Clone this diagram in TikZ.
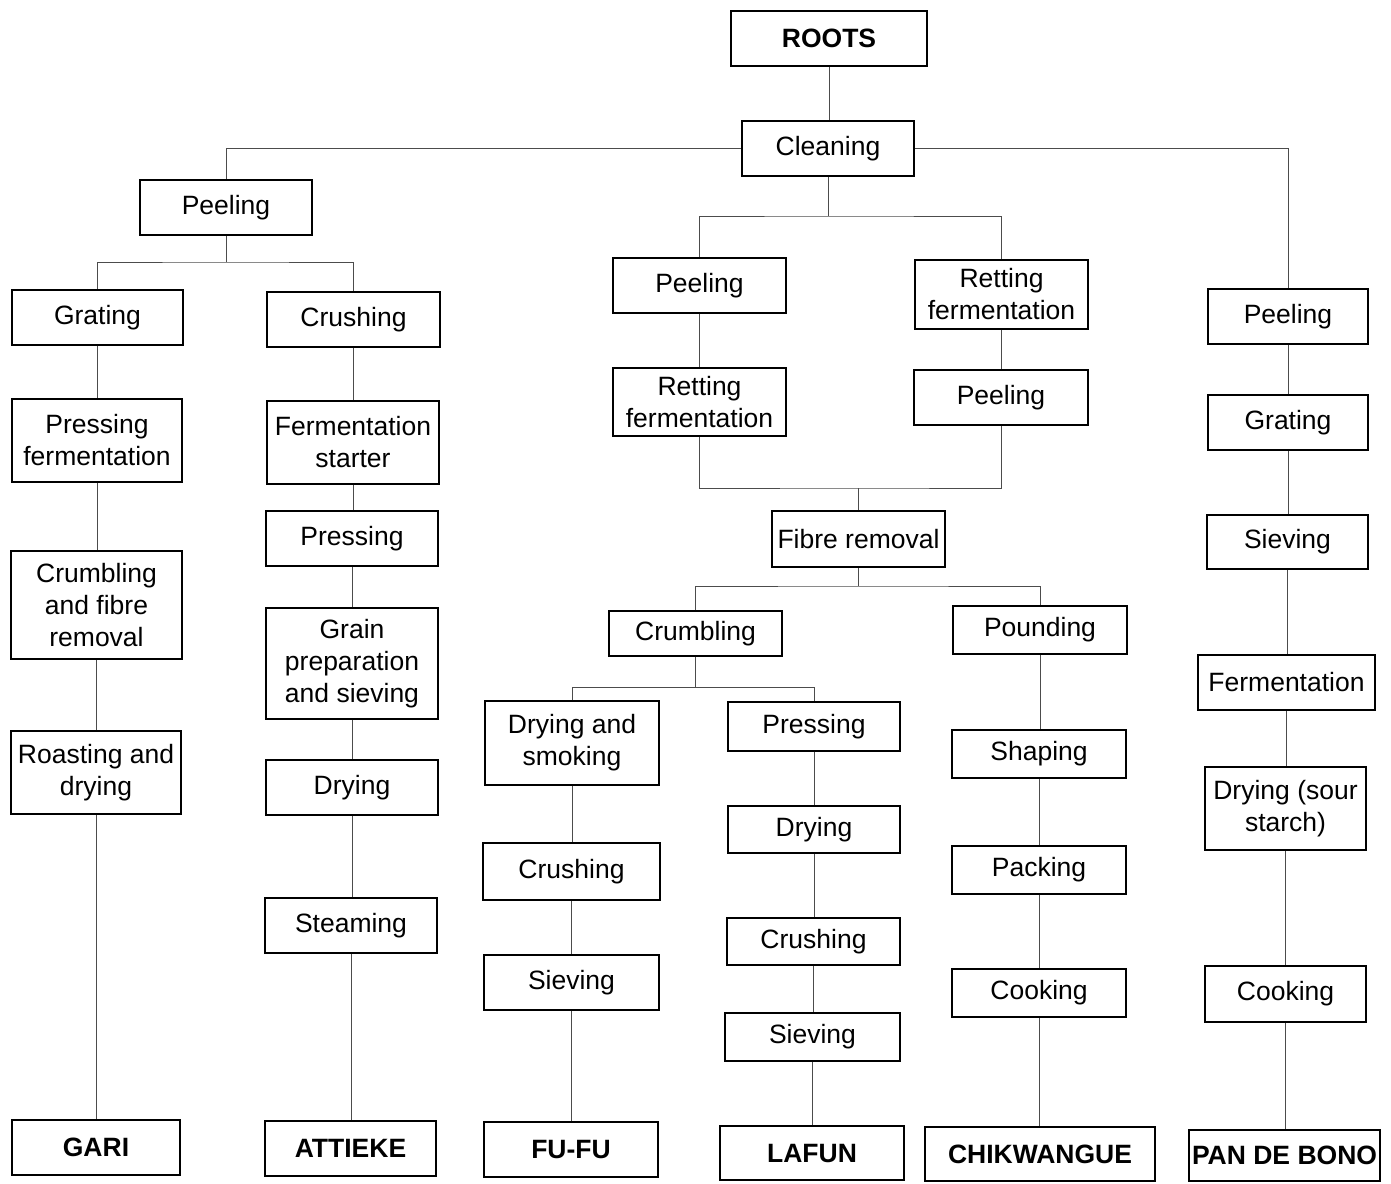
\documentclass[tikz,border=0pt]{standalone}
\usepackage{fontspec}
\setmainfont{Liberation Sans}
\begin{document}
\begin{tikzpicture}[x=1pt,y=-1pt,
  box/.style={draw=black, line width=1.7pt, fill=white, inner sep=0pt,
    align=center, font=\fontsize{26.5}{32}\selectfont},
  endbox/.style={box, font=\fontsize{26.5}{32}\selectfont\bfseries},
  link/.style={draw=black!70, line width=1pt}]
\useasboundingbox (0,0) rectangle (1391,1183);
% #1 name, #2 cx, #3 cy, #4 width, #5 height, #6 text
\newcommand\procbox[6]{\node[box,minimum width=#4pt,minimum height=#5pt] (#1) at (#2,#3+1.5) {\strut#6};}
\newcommand\prodbox[6]{\node[endbox,minimum width=#4pt,minimum height=#5pt] (#1) at (#2,#3) {#6};}

% top
\prodbox{roots}{829}{38.5}{196}{55}{ROOTS}
\node[box,minimum width=172pt,minimum height=55pt] (clean) at (828,148.5) {Cleaning};

% left branch
\node[box,minimum width=172pt,minimum height=55pt] (peelA) at (226,207.5) {Peeling};
\node[box,minimum width=171pt,minimum height=55pt] (gratA) at (97.5,317.5) {Grating};
\node[box,minimum width=170pt,minimum height=83pt] (pressfer) at (97,440.5) {Pressing\\fermentation};
\node[box,minimum width=171pt,minimum height=108pt] (crumbfib) at (96.5,605) {Crumbling\\and fibre\\removal};
\node[box,minimum width=170pt,minimum height=83pt] (roast) at (96,772.5) {Roasting and\\drying};
\prodbox{gari}{96}{1147.5}{168}{55}{GARI}

\node[box,minimum width=173pt,minimum height=55pt] (crushA) at (353.5,319.5) {Crushing};
\node[box,minimum width=172pt,minimum height=83pt] (starter) at (353,442.5) {Fermentation\\starter};
\node[box,minimum width=172pt,minimum height=55pt] (pressA) at (352,538.5) {Pressing};
\node[box,minimum width=172pt,minimum height=111pt] (grain) at (352,663.5) {Grain\\preparation\\and sieving};
\node[box,minimum width=172pt,minimum height=55pt] (dryA) at (352,787.5) {Drying};
\node[box,minimum width=172pt,minimum height=55pt] (steam) at (351,925.5) {Steaming};
\prodbox{attieke}{350.5}{1148.5}{171}{55}{ATTIEKE}

% middle branch
\node[box,minimum width=173pt,minimum height=55pt] (peelB) at (699.5,285.5) {Peeling};
\node[box,minimum width=173pt,minimum height=68pt] (retB) at (699.5,402) {Retting\\fermentation};
\node[box,minimum width=173pt,minimum height=69pt] (retC) at (1001.5,294.5) {Retting\\fermentation};
\node[box,minimum width=174pt,minimum height=55pt] (peelC) at (1001,397.5) {Peeling};
\node[box,minimum width=173pt,minimum height=56pt] (fibre) at (858.5,539) {Fibre removal};
\node[box,minimum width=173pt,minimum height=45pt] (crumb) at (695.5,633.5) {Crumbling};
\node[box,minimum width=174pt,minimum height=48pt] (pound) at (1040,630) {Pounding};

\node[box,minimum width=174pt,minimum height=84pt] (drysmoke) at (572,743) {Drying and\\smoking};
\node[box,minimum width=177pt,minimum height=57pt] (crushB) at (571.5,871.5) {Crushing};
\node[box,minimum width=175pt,minimum height=55pt] (sieveB) at (571.5,982.5) {Sieving};
\prodbox{fufu}{571}{1149.5}{174}{55}{FU-FU}

\node[box,minimum width=172pt,minimum height=49pt] (pressB) at (814,726.5) {Pressing};
\node[box,minimum width=172pt,minimum height=47pt] (dryB) at (814,829.5) {Drying};
\node[box,minimum width=173pt,minimum height=47pt] (crushC) at (813.5,941.5) {Crushing};
\node[box,minimum width=175pt,minimum height=48pt] (sieveC) at (812.5,1037) {Sieving};
\prodbox{lafun}{812}{1153}{184}{54}{LAFUN}

\node[box,minimum width=174pt,minimum height=48pt] (shape) at (1039,754) {Shaping};
\node[box,minimum width=174pt,minimum height=48pt] (pack) at (1039,870) {Packing};
\node[box,minimum width=174pt,minimum height=48pt] (cookA) at (1039,993) {Cooking};
\prodbox{chik}{1040}{1154}{230}{54}{CHIKWANGUE}

% right branch
\node[box,minimum width=160pt,minimum height=55pt] (peelD) at (1288,316.5) {Peeling};
\node[box,minimum width=160pt,minimum height=55pt] (gratD) at (1288,422.5) {Grating};
\node[box,minimum width=161pt,minimum height=54pt] (sieveD) at (1287.5,542) {Sieving};
\node[box,minimum width=177pt,minimum height=55pt] (ferm) at (1286.5,682.5) {Fermentation};
\node[box,minimum width=161pt,minimum height=83pt] (sour) at (1285.5,808.5) {Drying (sour\\starch)};
\node[box,minimum width=161pt,minimum height=56pt] (cookB) at (1285.5,994) {Cooking};
\prodbox{pan}{1284.5}{1155.5}{191}{51}{PAN DE BONO}

% branch points
\coordinate (jA) at (226,262);
\coordinate (jB) at (828,216);
\coordinate (jC) at (858.5,488);
\coordinate (jD) at (858.5,586);
\coordinate (jE) at (695.5,687);

% trunk and main split
\path[link] (roots.south) -- (roots.south |- clean.north);
\path[link] (clean.west) -| (peelA.north);
\path[link] (clean.east) -| (peelD.north);
\path[link] (clean.south) -- (jB);
\path[link] (peelB.north) |- (jB) -| (retC.north);

% left sub-branches
\path[link] (peelA.south) -- (jA);
\path[link] (gratA.north) |- (jA) -| (crushA.north);
\path[link] (gratA.south) -- (gratA.south |- pressfer.north);
\path[link] (pressfer.south) -- (pressfer.south |- crumbfib.north);
\path[link] (crumbfib.south) -- (crumbfib.south |- roast.north);
\path[link] (roast.south) -- (roast.south |- gari.north);
\path[link] (crushA.south) -- (crushA.south |- starter.north);
\path[link] (starter.south) -- (starter.south |- pressA.north);
\path[link] (pressA.south) -- (pressA.south |- grain.north);
\path[link] (grain.south) -- (grain.south |- dryA.north);
\path[link] (dryA.south) -- (dryA.south |- steam.north);
\path[link] (steam.south) -- (steam.south |- attieke.north);

% middle sub-branches
\path[link] (peelB.south) -- (peelB.south |- retB.north);
\path[link] (retC.south) -- (retC.south |- peelC.north);
\path[link] (retB.south) |- (jC) -| (peelC.south);
\path[link] (jC) -- (fibre.north);
\path[link] (fibre.south) -- (jD);
\path[link] (crumb.north) |- (jD) -| (pound.north);
\path[link] (crumb.south) -- (jE);
\path[link] (drysmoke.north) |- (jE) -| (pressB.north);
\path[link] (drysmoke.south) -- (drysmoke.south |- crushB.north);
\path[link] (crushB.south) -- (crushB.south |- sieveB.north);
\path[link] (sieveB.south) -- (sieveB.south |- fufu.north);
\path[link] (pressB.south) -- (pressB.south |- dryB.north);
\path[link] (dryB.south) -- (dryB.south |- crushC.north);
\path[link] (crushC.south) -- (crushC.south |- sieveC.north);
\path[link] (sieveC.south) -- (sieveC.south |- lafun.north);
\path[link] (pound.south) -- (pound.south |- shape.north);
\path[link] (shape.south) -- (shape.south |- pack.north);
\path[link] (pack.south) -- (pack.south |- cookA.north);
\path[link] (cookA.south) -- (cookA.south |- chik.north);

% right sub-branch
\path[link] (peelD.south) -- (peelD.south |- gratD.north);
\path[link] (gratD.south) -- (gratD.south |- sieveD.north);
\path[link] (sieveD.south) -- (sieveD.south |- ferm.north);
\path[link] (ferm.south) -- (ferm.south |- sour.north);
\path[link] (sour.south) -- (sour.south |- cookB.north);
\path[link] (cookB.south) -- (cookB.south |- pan.north);
\end{tikzpicture}
\end{document}
